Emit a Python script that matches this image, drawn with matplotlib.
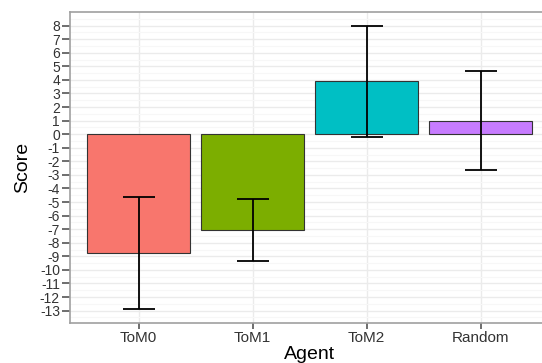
import matplotlib.pyplot as plt
import numpy as np

# Mean score per agent with error bar half-widths
agents = ['ToM0', 'ToM1', 'ToM2', 'Random']
scores = [-8.73, -7.06, 3.90, 1.00]
errors = [4.12, 2.27, 4.08, 3.64]
colors = ['#F8766D', '#7CAE00', '#00BFC4', '#C77CFF']
y_ticks = list(range(-13, 9))

plt.rcParams['font.family'] = ['Liberation Sans', 'DejaVu Sans']
plt.rcParams['axes.unicode_minus'] = False

fig = plt.figure(figsize=(5.42, 3.63), dpi=100)
ax = fig.add_axes([0.1297, 0.111, 0.883, 0.8567])

x = np.arange(1, len(agents) + 1)
ax.bar(x, scores, width=0.9, color=colors, edgecolor='#333333',
       linewidth=0.8, zorder=3)
ax.errorbar(x, scores, yerr=errors, fmt='none', ecolor='black',
            elinewidth=1.3, capsize=11.4, capthick=1.3, zorder=4)

ax.set_xlim(0.4, 4.6)
lo = min(s - e for s, e in zip(scores, errors))
hi = max(s + e for s, e in zip(scores, errors))
pad = 0.05 * (hi - lo)
ax.set_ylim(lo - pad, hi + pad)

ax.set_xticks(x)
ax.set_xticklabels(agents)
ax.set_yticks(y_ticks)
ax.set_yticks(np.arange(-13.5, 9.0, 1.0), minor=True)

# theme_bw style grid and frame
ax.set_axisbelow(True)
ax.grid(which='major', color='#EBEBEB', linewidth=1.0)
ax.grid(which='minor', axis='y', color='#F7F7F7', linewidth=0.8)
for spine in ax.spines.values():
    spine.set_color('#a0a0a0')
    spine.set_linewidth(1.2)

ax.tick_params(axis='x', which='major', length=4, width=1.2,
               color='#555555', labelsize=11, labelcolor='#333333', pad=2)
ax.tick_params(axis='y', which='major', length=5.5, width=1.2,
               color='#555555', labelsize=10, labelcolor='#333333', pad=2)
ax.tick_params(axis='y', which='minor', length=0)

ax.set_xlabel('Agent', fontsize=14, labelpad=1)
ax.set_ylabel('Score', fontsize=14, labelpad=6)

fig.savefig('out.png', dpi=100)
